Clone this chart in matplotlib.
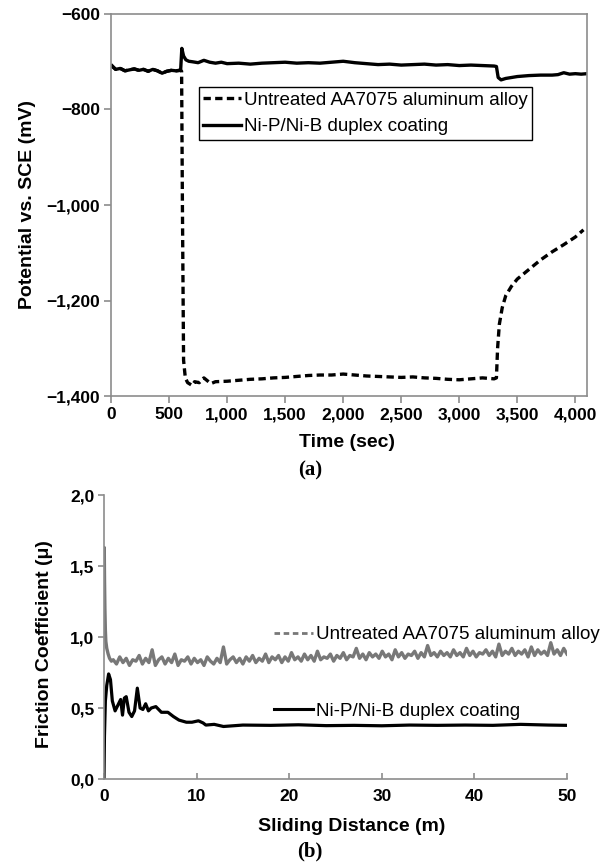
import numpy as np
import matplotlib.pyplot as plt
from matplotlib.lines import Line2D

plt.rcParams['font.family'] = ['Liberation Sans', 'DejaVu Sans']

# (a) open circuit potential
t_coat = [0, 40, 80, 120, 160, 200, 240, 280, 320, 360, 400, 440, 480, 520, 560, 590, 600,
          610, 625, 645, 670, 700, 750, 800, 850, 900, 950,
          1000, 1100, 1200, 1300, 1400, 1500, 1600, 1700, 1800, 1900, 2000, 2100, 2200, 2300,
          2400, 2500, 2600, 2700, 2800, 2900, 3000, 3100, 3200, 3300, 3320, 3335, 3360, 3400,
          3500, 3600, 3700, 3800, 3850, 3900, 3950, 4000, 4050, 4100]
e_coat = [-708, -716, -714, -719, -717, -715, -718, -716, -720, -716, -719, -724, -720, -718, -719, -718, -716,
          -672, -688, -696, -699, -700, -702, -697, -701, -703, -701,
          -704, -703, -705, -703, -702, -701, -703, -702, -703, -701, -699, -702, -704, -706,
          -705, -707, -706, -705, -707, -706, -708, -707, -708, -709, -710, -733, -738, -735,
          -731, -729, -728, -728, -727, -723, -726, -725, -726, -725]

t_bare = [0, 40, 80, 120, 160, 200, 240, 280, 320, 360, 400, 440, 480, 520, 560, 600,
          608, 615, 625, 640, 660, 700, 720, 760, 800, 830, 860, 900,
          1000, 1100, 1200, 1300, 1400, 1500, 1600, 1700, 1800, 1900, 2000, 2100, 2200, 2300,
          2400, 2500, 2600, 2700, 2800, 2900, 3000, 3100, 3200, 3300, 3320,
          3330, 3345, 3370, 3400, 3450, 3500, 3600, 3700, 3800, 3900, 4000, 4070]
e_bare = [-706, -716, -714, -719, -717, -715, -718, -716, -720, -716, -719, -724, -720, -718, -719, -718,
          -720, -1000, -1325, -1362, -1372, -1378, -1370, -1372, -1362, -1368, -1374, -1370,
          -1369, -1367, -1365, -1364, -1362, -1361, -1359, -1357, -1356, -1356, -1354, -1356, -1358, -1359,
          -1360, -1361, -1360, -1362, -1363, -1365, -1366, -1364, -1362, -1364, -1362,
          -1300, -1250, -1215, -1190, -1170, -1155, -1135, -1115, -1098, -1083, -1067, -1052]

# (b) friction coefficient
d_coat = [0, 0.05, 0.15, 0.3, 0.5, 0.7, 0.9, 1.2, 1.5, 1.8, 2.0, 2.2, 2.4, 2.7, 3.0, 3.3, 3.6,
          3.9, 4.2, 4.5, 4.8, 5.1, 5.6, 6.2, 6.9, 7.5, 8.1, 8.9, 9.5, 10.2, 10.7, 11.0, 11.9,
          12.9, 15, 18, 21, 24, 27, 30, 33, 36, 39, 42, 45, 48, 50]
mu_coat = [0.0, 0.30, 0.55, 0.66, 0.74, 0.70, 0.55, 0.48, 0.52, 0.56, 0.45, 0.57, 0.58, 0.47, 0.44, 0.48, 0.64,
           0.50, 0.49, 0.53, 0.48, 0.50, 0.51, 0.47, 0.47, 0.44, 0.415, 0.40, 0.40, 0.41, 0.395, 0.38, 0.385,
           0.37, 0.38, 0.378, 0.382, 0.376, 0.378, 0.375, 0.38, 0.378, 0.38, 0.378, 0.385, 0.38, 0.378]

d_bare_start = [0, 0.03, 0.06, 0.1, 0.15, 0.2, 0.3, 0.45, 0.6, 0.8]
mu_bare_start = [1.10, 1.63, 1.40, 1.20, 1.05, 0.97, 0.92, 0.88, 0.85, 0.83]
mu_bare_steady = [
    0.84, 0.81, 0.86, 0.82, 0.85, 0.80, 0.84, 0.83, 0.87, 0.81,
    0.85, 0.82, 0.91, 0.80, 0.84, 0.86, 0.81, 0.85, 0.82, 0.88,
    0.80, 0.84, 0.83, 0.86, 0.81, 0.85, 0.82, 0.84, 0.80, 0.86,
    0.83, 0.81, 0.85, 0.82, 0.93, 0.81, 0.84, 0.86, 0.82, 0.85,
    0.81, 0.86, 0.83, 0.87, 0.82, 0.85, 0.83, 0.88, 0.82, 0.86,
    0.84, 0.87, 0.82, 0.86, 0.83, 0.89, 0.84, 0.86, 0.83, 0.88,
    0.84, 0.87, 0.83, 0.90, 0.84, 0.86, 0.85, 0.88, 0.83, 0.87,
    0.85, 0.89, 0.84, 0.87, 0.86, 0.92, 0.85, 0.88, 0.84, 0.89,
    0.86, 0.88, 0.85, 0.90, 0.86, 0.88, 0.84, 0.91, 0.86, 0.89,
    0.85, 0.88, 0.87, 0.90, 0.85, 0.89, 0.86, 0.94, 0.87, 0.89,
    0.86, 0.90, 0.87, 0.89, 0.86, 0.91, 0.87, 0.89, 0.86, 0.92,
    0.87, 0.90, 0.86, 0.89, 0.88, 0.91, 0.87, 0.90, 0.86, 0.95,
    0.87, 0.90, 0.88, 0.92, 0.87, 0.90, 0.88, 0.91, 0.86, 0.93,
    0.87, 0.91, 0.88, 0.90, 0.87, 0.96, 0.88, 0.91, 0.87, 0.92,
    0.88]

yticks_a = [-1400, -1200, -1000, -800, -600]
ylabels_a = ['\u22121,400', '\u22121,200', '\u22121,000', '\u2212800', '\u2212600']
xticks_a = [0, 500, 1000, 1500, 2000, 2500, 3000, 3500, 4000]
xlabels_a = ['0', '500', '1,000', '1,500', '2,000', '2,500', '3,000', '3,500', '4,000']
yticks_b = [0, 0.5, 1.0, 1.5, 2.0]
ylabels_b = ['0,0', '0,5', '1,0', '1,5', '2,0']
xticks_b = [0, 10, 20, 30, 40, 50]

lab_bare = 'Untreated AA7075 aluminum alloy'
lab_coat = 'Ni-P/Ni-B duplex coating'

d_bare = d_bare_start + list(np.linspace(1.0, 50.0, len(mu_bare_steady)))
mu_bare = mu_bare_start + mu_bare_steady

fig = plt.figure(figsize=(6.06, 8.63), dpi=100)
spc = '#8c8c8c'
gray = '#787878'

# ---- top panel
ax1 = fig.add_axes([0.1832, 0.5411, 0.7854, 0.4427])
ax1.plot(t_bare, e_bare, color='black', lw=2.4, ls=(0, (2.2, 1.3)))
ax1.plot(t_coat, e_coat, color='black', lw=2.4)
ax1.set_xlim(0, 4100)
ax1.set_ylim(-1400, -600)
ax1.set_yticks(yticks_a, ylabels_a)
ax1.set_xticks(xticks_a, xlabels_a)
for s in ax1.spines.values():
    s.set_color(spc)
    s.set_linewidth(1.2)
ax1.tick_params(direction='out', length=5, width=1.2, color=spc, labelsize=12.5, pad=3)
for lb in ax1.get_xticklabels() + ax1.get_yticklabels():
    lb.set_fontweight('bold')
h = [Line2D([], [], color='black', lw=2.4, ls=(0, (2.2, 1.3))), Line2D([], [], color='black', lw=2.4)]
leg = ax1.legend(h, [lab_bare, lab_coat], loc='upper left', bbox_to_anchor=(0.328, 0.899),
                 bbox_transform=fig.transFigure, fontsize=13.5, frameon=True, fancybox=False,
                 edgecolor='black', framealpha=1, borderaxespad=0, borderpad=0.25,
                 handlelength=2.0, handletextpad=0.15, labelspacing=0.5)
leg.get_frame().set_linewidth(1.0)

fig.text(0.045, 0.7625, 'Potential vs. SCE (mV)', rotation=90, ha='center', va='center',
         fontsize=14, fontweight='bold')
fig.text(0.573, 0.487, 'Time (sec)', ha='center', va='center', fontsize=14, fontweight='bold')
fig.text(0.512, 0.4554, '(a)', ha='center', va='center', fontsize=15, fontweight='bold',
         family='Liberation Serif')

# ---- bottom panel
ax2 = fig.add_axes([0.1716, 0.0973, 0.764, 0.3291])
ax2.plot(d_bare, mu_bare, color=gray, lw=2.4)
ax2.plot(d_coat, mu_coat, color='black', lw=2.3)
ax2.set_xlim(0, 50)
ax2.set_ylim(0, 2.0)
ax2.set_yticks(yticks_b, ylabels_b)
ax2.set_xticks(xticks_b)
ax2.spines['top'].set_visible(False)
ax2.spines['right'].set_visible(False)
for s in ['left', 'bottom']:
    ax2.spines[s].set_color(spc)
    ax2.spines[s].set_linewidth(1.2)
ax2.tick_params(axis='y', direction='out', length=4, width=1.2, color=spc, labelsize=12.5, pad=3)
ax2.tick_params(axis='x', direction='in', length=4, width=1.2, color=spc, labelsize=12.5, pad=7)
for lb in ax2.get_xticklabels() + ax2.get_yticklabels():
    lb.set_fontweight('bold')
h2 = [Line2D([], [], color=gray, lw=2.0, ls=(0, (2.0, 1.3))), Line2D([], [], color='black', lw=2.2)]
ax2.legend(h2, [lab_bare, lab_coat], loc='upper left', bbox_to_anchor=(0.452, 0.2744),
           bbox_transform=fig.transFigure, fontsize=13.5, frameon=False, borderaxespad=0,
           borderpad=0, handlelength=2.1, handletextpad=0.15, labelspacing=3.15)

fig.text(0.074, 0.254, 'Friction Coefficient (\u03bc)', rotation=90, ha='center', va='center',
         fontsize=14, fontweight='bold')
fig.text(0.58, 0.042, 'Sliding Distance (m)', ha='center', va='center', fontsize=14, fontweight='bold')
fig.text(0.512, 0.013, '(b)', ha='center', va='center', fontsize=15, fontweight='bold',
         family='Liberation Serif')

fig.savefig('out.png', dpi=100)
